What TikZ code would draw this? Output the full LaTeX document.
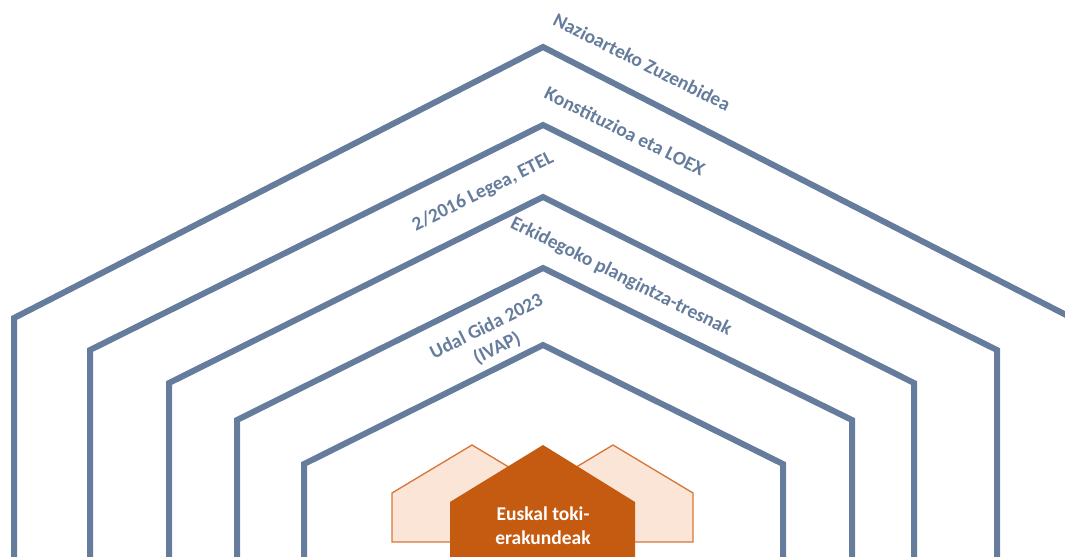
\documentclass[tikz,border=0pt]{standalone}
\usepackage{fontspec}
\setmainfont{Carlito}
\definecolor{frame}{HTML}{657C9C}
\definecolor{darkor}{HTML}{C55A11}
\definecolor{lightor}{HTML}{FBE5D6}
\definecolor{lineor}{HTML}{D5773A}
\tikzset{
  level/.style={draw=frame, line width=6bp, line join=miter, line cap=butt},
  lbl/.style={text=frame, font=\bfseries\fontsize{19.5bp}{24bp}\selectfont, align=center, inner sep=0pt},
  sidehouse/.style={draw=lineor, fill=lightor, line width=1.3bp, line join=miter},
  mainhouse/.style={fill=darkor, draw=none},
}
\begin{document}
\begin{tikzpicture}[x=1bp,y=-1bp]
\useasboundingbox (0,0) rectangle (1065,557);
\clip (0,0) rectangle (1065,557);
% nested levels
\draw[level] (14,570) -- (14,318) coordinate (l1) -- (543,47) coordinate (a1) -- (1072,318) coordinate (r1) -- (1072,570);
\draw[level] (90,570) -- (90,350) coordinate (l2) -- (543,125) coordinate (a2) -- (997,350) coordinate (r2) -- (997,570);
\draw[level] (169,570) -- (169,383) coordinate (l3) -- (543,197) coordinate (a3) -- (914,383) coordinate (r3) -- (914,570);
\draw[level] (237,570) -- (237,420) coordinate (l4) -- (543,268) coordinate (a4) -- (852,420) coordinate (r4) -- (852,570);
\draw[level] (304,570) -- (304,464) coordinate (l5) -- (543,345) coordinate (a5) -- (783,464) coordinate (r5) -- (783,570);
% houses
\draw[sidehouse] (392,542) -- (392,493) -- (472,445) -- (552,493) -- (552,542) -- cycle;
\draw[sidehouse] (533,542) -- (533,493) -- (613,445) -- (693,493) -- (693,542) -- cycle;
\fill[mainhouse] (450,570) -- (450,502) -- (543,445) -- (635,502) -- (635,570) -- cycle;
\node[lbl, text=white] (main) at (543,526) {Euskal toki-\\erakundeak};
% labels
\node[lbl, rotate=-26.5] (n1) at (642,62) {Nazioarteko Zuzenbidea};
\node[lbl, rotate=-26.5] (n2) at (625,131) {Konstituzioa eta LOEX};
\node[lbl, rotate=26.5] (n3) at (483,192) {2/2016 Legea, ETEL};
\node[lbl, rotate=-26.5] (n4) at (621,277) {Erkidegoko plangintza-tresnak};
\node[lbl, rotate=26.5] (n5) at (492,338) {Udal Gida 2023\\(IVAP)};
\end{tikzpicture}
\end{document}
